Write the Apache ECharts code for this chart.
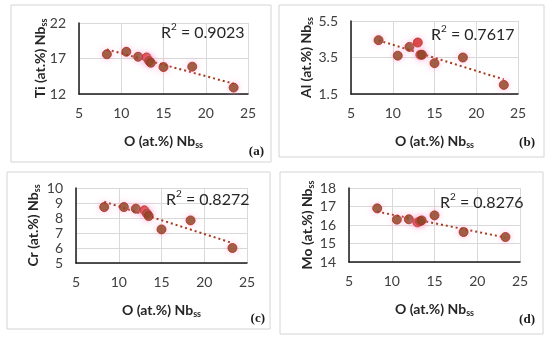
<!DOCTYPE html>
<html><head><meta charset="utf-8">
<script src="https://cdn.jsdelivr.net/npm/echarts@6/dist/echarts.min.js"></script>
<style>html,body{margin:0;padding:0;background:#fff}#c{width:550px;height:339px}</style>
</head><body><div id="c"></div>
<script>
// Data
const oNb = [8.3, 10.6, 12.0, 13.0, 13.3, 13.5, 15.0, 18.4, 23.3];
const tiNb = [17.6, 17.95, 17.25, 17.15, 16.65, 16.4, 15.8, 15.85, 12.9];
const alNb = [4.45, 3.6, 4.08, 4.32, 3.65, 3.65, 3.19, 3.5, 2.0];
const crNb = [8.73, 8.73, 8.62, 8.51, 8.29, 8.13, 7.24, 7.84, 6.0];
const moNb = [16.9, 16.29, 16.31, 16.14, 16.2, 16.25, 16.52, 15.62, 15.35];
const r2Labels = ['0.9023', '0.7617', '0.8272', '0.8276'];
const elemNames = ['Ti', 'Al', 'Cr', 'Mo'];
const panelLetters = ['(a)', '(b)', '(c)', '(d)'];
const xTicks = {min: 5, max: 25, interval: 5};
const yTicks = [
  {min: 12, max: 22, interval: 5},
  {min: 1.5, max: 5.5, interval: 2},
  {min: 5, max: 10, interval: 1},
  {min: 14, max: 18, interval: 1}
];
const series = [tiNb, alNb, crNb, moNb];

// layout
const grids = [
  {left: 79, top: 23, width: 169, height: 71},
  {left: 351, top: 21, width: 167, height: 73},
  {left: 76, top: 188, width: 171, height: 75},
  {left: 349, top: 188, width: 171, height: 74}
];
const yNameOffsets = [39, 45, 43, 42];
const frames = [
  {x: 11, y: 5, w: 260, h: 157},
  {x: 279, y: 5, w: 265, h: 152},
  {x: 7, y: 172, w: 263, h: 157},
  {x: 280, y: 172, w: 263, h: 162}
];
const r2Pos = [[161, 31], [431, 33], [166, 198], [440, 201]];
const letterPos = [[264, 152], [535, 143], [265, 319], [535, 320]];

const FONT = 'Lato, "Open Sans", sans-serif';
const TXT = '#404040';

function fit(xs, ys) {
  const n = xs.length;
  let sx = 0, sy = 0, sxx = 0, sxy = 0;
  for (let i = 0; i < n; i++) { sx += xs[i]; sy += ys[i]; sxx += xs[i] * xs[i]; sxy += xs[i] * ys[i]; }
  const b = (n * sxy - sx * sy) / (n * sxx - sx * sx);
  const a = (sy - b * sx) / n;
  const x0 = Math.min(...xs), x1 = Math.max(...xs);
  return [[x0, a + b * x0], [x1, a + b * x1]];
}

const nameRich = {
  m: {fontSize: 14, fontWeight: 'bold', color: '#262626', fill: '#262626', fontFamily: FONT, lineHeight: 18},
  s: {fontSize: 9, fontWeight: 'bold', color: '#262626', fill: '#262626', fontFamily: FONT, lineHeight: 18, verticalAlign: 'bottom', padding: [6, 0, 0, 0]}
};

const option = {
  backgroundColor: '#fff',
  animation: false,
  grid: grids.map(g => Object.assign({containLabel: false}, g)),
  xAxis: grids.map((g, i) => ({
    gridIndex: i, type: 'value', min: xTicks.min, max: xTicks.max, interval: xTicks.interval,
    name: '{m|O (at.%) Nb}{s|ss}', nameLocation: 'middle', nameGap: 38,
    nameTextStyle: {rich: nameRich},
    axisLine: {show: true, onZero: false, lineStyle: {color: '#1a1a1a', width: 1.5}},
    axisTick: {show: false},
    axisLabel: {color: TXT, fontSize: 14, fontFamily: FONT, margin: 12},
    splitLine: {show: true, lineStyle: {color: '#d9d9d9', width: 1}}
  })),
  yAxis: grids.map((g, i) => ({
    gridIndex: i, type: 'value', min: yTicks[i].min, max: yTicks[i].max, interval: yTicks[i].interval,
    axisLine: {show: true, onZero: false, lineStyle: {color: '#1a1a1a', width: 1.5}},
    axisTick: {show: false},
    axisLabel: {color: TXT, fontSize: 14, fontFamily: FONT, margin: 13},
    splitLine: {show: true, lineStyle: {color: '#d9d9d9', width: 1}}
  })),
  series: [].concat(...series.map((ys, i) => [
    {
      type: 'line', xAxisIndex: i, yAxisIndex: i, data: fit(oNb, ys), showSymbol: false, z: 2,
      lineStyle: {type: [2, 3], color: '#a5391a', width: 2}
    },
    {
      type: 'scatter', xAxisIndex: i, yAxisIndex: i, z: 3,
      data: oNb.map((x, k) => [x, ys[k]]), symbolSize: 9,
      itemStyle: {
        color: p => (p.dataIndex === 3 ? '#d01e14' : '#7e380c'),
        borderColor: '#b8281a', borderWidth: 1,
        shadowBlur: 6, shadowColor: 'rgba(255,160,215,0.7)'
      }
    }
  ])),
  graphic: [].concat(
    frames.map(f => ({type: 'rect', shape: {x: f.x, y: f.y, width: f.w, height: f.h}, silent: true,
      style: {fill: 'none', stroke: '#d4d4d4', lineWidth: 1}, z: -1})),
    grids.map((g, i) => ({type: 'text', x: g.left - yNameOffsets[i], y: g.top + g.height / 2,
      rotation: Math.PI / 2, silent: true, z: 10,
      style: {text: '{m|' + elemNames[i] + ' (at.%) Nb}{s|ss}', align: 'center', verticalAlign: 'middle', rich: nameRich}})),
    r2Labels.map((r, i) => ({type: 'text', x: r2Pos[i][0], y: r2Pos[i][1], silent: true, z: 10,
      style: {text: '{m|R}{p|2}{m| = ' + r + '}', verticalAlign: 'middle', align: 'left',
        rich: {m: {fontSize: 16, fontFamily: FONT, fill: '#262626', lineHeight: 19, verticalAlign: 'bottom'},
               p: {fontSize: 10, fontFamily: FONT, fill: '#262626', lineHeight: 19, verticalAlign: 'top', padding: [0, 0, 7, 0]}}}})),
    panelLetters.map((t, i) => ({type: 'text', x: letterPos[i][0], y: letterPos[i][1], silent: true,
      style: {text: t, align: 'right', verticalAlign: 'middle', fontSize: 13, fontWeight: 'bold',
        fontFamily: '"Liberation Serif", serif', fill: '#1a1a1a'}}))
  )
};
echarts.init(document.getElementById('c'), null, {renderer: 'canvas'}).setOption(option);
</script></body></html>
